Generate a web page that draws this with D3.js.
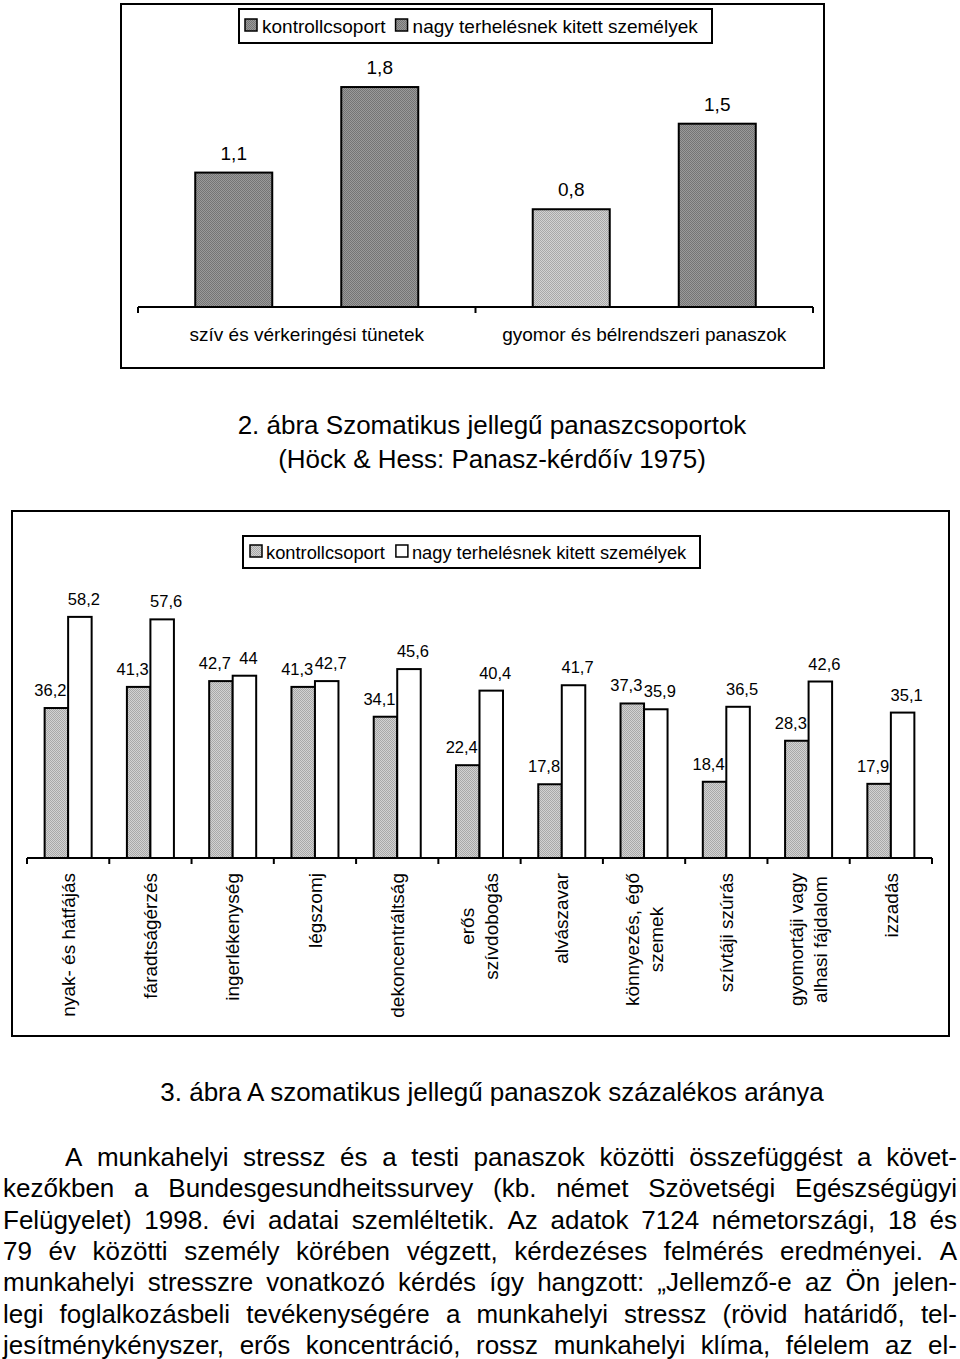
<!DOCTYPE html>
<html>
<head>
<meta charset="utf-8">
<script src="https://cdn.jsdelivr.net/npm/d3@7"></script>
<style>
  html, body { margin: 0; padding: 0; background: #fff; }
  svg { display: block; }
  text { font-family: "Liberation Sans", Arial, sans-serif; fill: #000; }
</style>
</head>
<body>
<svg id="chart" width="960" height="1359"></svg>
<script>
// ---------- DATA ----------
const seriesNames = ["kontrollcsoport", "nagy terhelésnek kitett személyek"];

const topCategories = ["szív és vérkeringési tünetek", "gyomor és bélrendszeri panaszok"];
const topControl = [1.1, 0.8];
const topExposed = [1.8, 1.5];
const topLabels = [["1,1", "1,8"], ["0,8", "1,5"]];

const caption2 = ["2. ábra Szomatikus jellegű panaszcsoportok", "(Höck & Hess: Panasz-kérdőív 1975)"];

const categories = [
  ["nyak- és hátfájás"],
  ["fáradtságérzés"],
  ["ingerlékenység"],
  ["légszomj"],
  ["dekoncentráltság"],
  ["erős", "szívdobogás"],
  ["alvászavar"],
  ["könnyezés, égő", "szemek"],
  ["szívtáji szúrás"],
  ["gyomortáji vagy", "alhasi fájdalom"],
  ["izzadás"]
];
const controlValues = [36.2, 41.3, 42.7, 41.3, 34.1, 22.4, 17.8, 37.3, 18.4, 28.3, 17.9];
const exposedValues = [58.2, 57.6, 44, 42.7, 45.6, 40.4, 41.7, 35.9, 36.5, 42.6, 35.1];

const caption3 = "3. ábra A szomatikus jellegű panaszok százalékos aránya";

const paragraphLines = [
  "A munkahelyi stressz és a testi panaszok közötti összefüggést a követ-",
  "kezőkben a Bundesgesundheitssurvey (kb. német Szövetségi Egészségügyi",
  "Felügyelet) 1998. évi adatai szemléltetik. Az adatok 7124 németországi, 18 és",
  "79 év közötti személy körében végzett, kérdezéses felmérés eredményei. A",
  "munkahelyi stresszre vonatkozó kérdés így hangzott: „Jellemző-e az Ön jelen-",
  "legi foglalkozásbeli tevékenységére a munkahelyi stressz (rövid határidő, tel-",
  "jesítménykényszer, erős koncentráció, rossz munkahelyi klíma, félelem az el-"
];

// ---------- DRAWING ----------
const fmt = v => String(v).replace(".", ",");
const svg = d3.select("#chart");
svg.append("rect").attr("width", 960).attr("height", 1359).attr("fill", "#fff");

// dither patterns
const defs = svg.append("defs");
function dither(id, base, dot) {
  const p = defs.append("pattern").attr("id", id).attr("width", 2).attr("height", 2)
    .attr("patternUnits", "userSpaceOnUse");
  p.append("rect").attr("width", 2).attr("height", 2).attr("fill", base);
  p.append("rect").attr("width", 1).attr("height", 1).attr("fill", dot);
  p.append("rect").attr("x", 1).attr("y", 1).attr("width", 1).attr("height", 1).attr("fill", dot);
}
dither("darkGrey", "#9a9a9a", "#747474");
dither("lightGrey", "#d2d2d2", "#a8a8a8");

// ===== Top chart =====
(function () {
  const g = svg.append("g");
  g.append("rect").attr("x", 121).attr("y", 4).attr("width", 703).attr("height", 364)
    .attr("fill", "none").attr("stroke", "#000").attr("stroke-width", 2);

  const x = d3.scaleBand().domain(topCategories).range([138, 813]).padding(0);
  const xi = d3.scaleBand().domain([0, 1]).range([0, x.bandwidth()])
    .paddingInner(0.4726).paddingOuter(0.392);
  const y = d3.scaleLinear().domain([0, 2]).range([307, 62.6]);

  const rows = topCategories.map((c, i) => [
    { cat: c, s: 0, v: topControl[i], lab: topLabels[i][0], light: i === 1 },
    { cat: c, s: 1, v: topExposed[i], lab: topLabels[i][1], light: false }
  ]).flat();

  g.selectAll("rect.bar").data(rows).join("rect").attr("class", "bar")
    .attr("x", d => x(d.cat) + xi(d.s))
    .attr("y", d => y(d.v))
    .attr("width", xi.bandwidth())
    .attr("height", d => y(0) - y(d.v))
    .attr("fill", d => d.light ? "url(#lightGrey)" : "url(#darkGrey)")
    .attr("stroke", "#000").attr("stroke-width", 2);

  g.selectAll("text.lab").data(rows).join("text").attr("class", "lab")
    .attr("x", d => x(d.cat) + xi(d.s) + xi.bandwidth() / 2)
    .attr("y", d => y(d.v) - 13)
    .attr("text-anchor", "middle").attr("font-size", 19)
    .text(d => d.lab);

  const ax = g.append("g").attr("transform", "translate(0,307)");
  ax.append("line").attr("x1", 138).attr("x2", 813).attr("stroke", "#000").attr("stroke-width", 2);
  const edges = [138, ...topCategories.map(c => x(c) + x.bandwidth())];
  ax.selectAll("line.edge").data(edges).join("line").attr("class", "edge")
    .attr("x1", d => d).attr("x2", d => d).attr("y1", 0).attr("y2", 6)
    .attr("stroke", "#000").attr("stroke-width", 2);
  g.selectAll("text.cat").data(topCategories).join("text").attr("class", "cat")
    .attr("x", d => x(d) + x.bandwidth() / 2).attr("y", 341)
    .attr("text-anchor", "middle").attr("font-size", 19)
    .text(d => d);

  // legend
  const lg = g.append("g");
  lg.append("rect").attr("x", 239).attr("y", 9).attr("width", 473).attr("height", 34)
    .attr("fill", "#fff").attr("stroke", "#000").attr("stroke-width", 2);
  let lx = 245;
  seriesNames.forEach((n) => {
    lg.append("rect").attr("x", lx).attr("y", 19).attr("width", 12).attr("height", 12)
      .attr("fill", "url(#darkGrey)").attr("stroke", "#000").attr("stroke-width", 1.5);
    const t = lg.append("text").attr("x", lx + 17).attr("y", 32.5).attr("font-size", 19).text(n);
    lx += 17 + t.node().getComputedTextLength() + 10;
  });
})();

// ===== Caption 2 =====
svg.selectAll("text.cap2").data(caption2).join("text").attr("class", "cap2")
  .attr("x", 492).attr("y", (d, i) => 434 + i * 34)
  .attr("text-anchor", "middle").attr("font-size", 26).text(d => d);

// ===== Second chart =====
(function () {
  const g = svg.append("g");
  g.append("rect").attr("x", 12).attr("y", 511).attr("width", 937).attr("height", 525)
    .attr("fill", "none").attr("stroke", "#000").attr("stroke-width", 2);

  const keys = categories.map(c => c.join(" "));
  const x = d3.scaleBand().domain(keys).range([27, 932]).padding(0);
  const xi = d3.scaleBand().domain([0, 1]).range([0, x.bandwidth()])
    .paddingInner(0).paddingOuter(0.75);
  const y = d3.scaleLinear().domain([0, 70]).range([858, 568]);

  const rows = keys.map((k, i) => [
    { k, s: 0, v: controlValues[i] },
    { k, s: 1, v: exposedValues[i] }
  ]).flat();

  g.selectAll("rect.bar").data(rows).join("rect").attr("class", "bar")
    .attr("x", d => x(d.k) + xi(d.s))
    .attr("y", d => y(d.v))
    .attr("width", xi.bandwidth())
    .attr("height", d => y(0) - y(d.v))
    .attr("fill", d => d.s === 0 ? "url(#lightGrey)" : "#fff")
    .attr("stroke", "#000").attr("stroke-width", 2);

  g.selectAll("text.lab").data(rows).join("text").attr("class", "lab")
    .attr("x", d => x(d.k) + xi(d.s) + xi.bandwidth() / 2 + (d.s === 0 ? -6 : 4))
    .attr("y", d => y(d.v) - 12)
    .attr("text-anchor", "middle").attr("font-size", 16.5)
    .text(d => fmt(d.v));

  // axis
  const ax = g.append("g").attr("transform", "translate(0,858)");
  ax.append("line").attr("x1", 27).attr("x2", 932).attr("stroke", "#000").attr("stroke-width", 2);
  const edges = [27, ...keys.map(k => x(k) + x.bandwidth())];
  ax.selectAll("line.tick").data(edges).join("line").attr("class", "tick")
    .attr("x1", d => d).attr("x2", d => d).attr("y1", 0).attr("y2", 6)
    .attr("stroke", "#000").attr("stroke-width", 2);

  // rotated category labels
  const cg = g.selectAll("g.cat").data(categories).join("g").attr("class", "cat")
    .attr("transform", (d, i) => `translate(${x(keys[i]) + x.bandwidth() / 2},873) rotate(-90)`);
  cg.each(function (lines) {
    const gg = d3.select(this);
    const n = lines.length;
    const ts = lines.map((l, j) => gg.append("text")
      .attr("font-size", 19)
      .attr("dy", "0.35em")
      .attr("y", (j - (n - 1) / 2) * 24)
      .text(l));
    const maxW = d3.max(ts, t => t.node().getComputedTextLength());
    ts.forEach(t => t.attr("x", -maxW / 2).attr("text-anchor", "middle"));
  });

  // legend
  const lg = g.append("g");
  lg.append("rect").attr("x", 243).attr("y", 536).attr("width", 457).attr("height", 32)
    .attr("fill", "#fff").attr("stroke", "#000").attr("stroke-width", 2);
  let lx = 250;
  seriesNames.forEach((n, i) => {
    lg.append("rect").attr("x", lx).attr("y", 545).attr("width", 12).attr("height", 12)
      .attr("fill", i === 0 ? "url(#lightGrey)" : "#fff").attr("stroke", "#000").attr("stroke-width", 1.5);
    const t = lg.append("text").attr("x", lx + 16).attr("y", 558.5).attr("font-size", 18.3).text(n);
    lx += 16 + t.node().getComputedTextLength() + 11;
  });
})();

// ===== Caption 3 =====
svg.append("text").attr("x", 492).attr("y", 1101).attr("text-anchor", "middle")
  .attr("font-size", 26).text(caption3);

// ===== Justified paragraph =====
(function () {
  const left = 3, right = 957, indent = 62, fs = 26, lh = 31.3, y0 = 1166;
  paragraphLines.forEach((line, i) => {
    const words = line.split(" ");
    const x0 = left + (i === 0 ? indent : 0);
    const ts = words.map(w => svg.append("text").attr("font-size", fs).attr("y", y0 + i * lh).text(w));
    const widths = ts.map(t => t.node().getComputedTextLength());
    const total = d3.sum(widths);
    const gap = (right - x0 - total) / (words.length - 1);
    let cx = x0;
    ts.forEach((t, j) => { t.attr("x", cx); cx += widths[j] + gap; });
  });
})();
</script>
</body>
</html>
